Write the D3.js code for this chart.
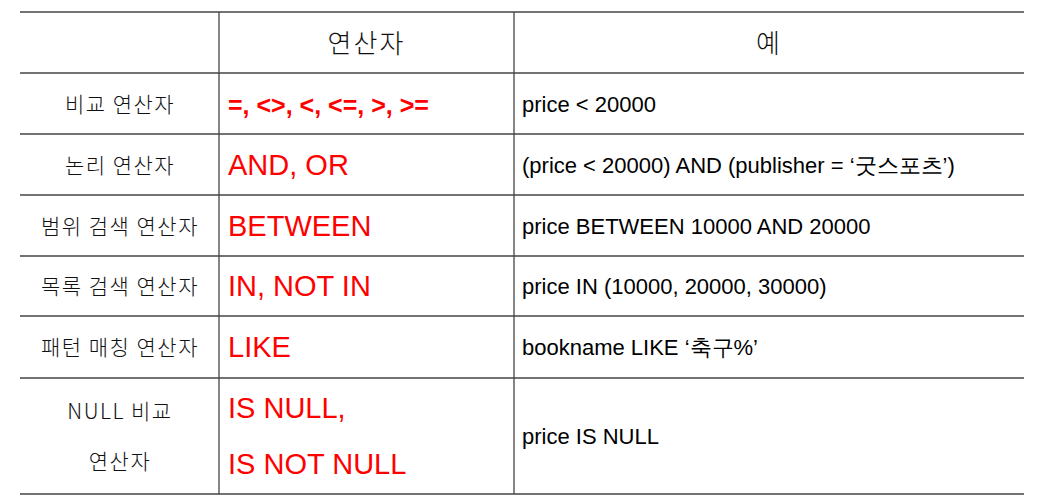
<!DOCTYPE html>
<html><head><meta charset="utf-8">
<script src="https://cdn.jsdelivr.net/npm/d3@7"></script>
<style>body{margin:0;background:#fff}</style>
</head><body><svg></svg>
<script>
// 표 데이터
const headers = ["", "연산자", "예"];
const categories = ["비교 연산자", "논리 연산자", "범위 검색 연산자", "목록 검색 연산자", "패턴 매칭 연산자", "NULL 비교\n연산자"];
const operators = ["=, <>, <, <=, >, >=", "AND, OR", "BETWEEN", "IN, NOT IN", "LIKE", "IS NULL,\nIS NOT NULL"];
const examples = ["price < 20000", "(price < 20000) AND (publisher = ‘굿스포츠’)", "price BETWEEN 10000 AND 20000",
  "price IN (10000, 20000, 30000)", "bookname LIKE ‘축구%’", "price IS NULL"];

const svg = d3.select("svg").attr("width", 1037).attr("height", 503);
const kr = "'Noto Sans CJK KR', sans-serif";
const lat = "'Liberation Sans', Arial, sans-serif";

// 행 경계
const rowY = [12, 73, 134, 195, 256, 316, 378, 494];
const colX = [20, 219, 514, 1024];

svg.selectAll("line.h").data(rowY).join("line")
  .attr("x1", colX[0]).attr("x2", colX[3]).attr("y1", d => d).attr("y2", d => d)
  .attr("stroke", "#444").attr("stroke-width", 1.3);
svg.selectAll("line.v").data(colX.slice(1, 3)).join("line").attr("class", "v")
  .attr("x1", d => d).attr("x2", d => d).attr("y1", rowY[0]).attr("y2", rowY[7])
  .attr("stroke", "#444").attr("stroke-width", 1.3);

// 머리글
svg.selectAll("text.hd").data(headers).join("text").attr("class", "hd")
  .attr("x", (d, i) => (colX[i] + colX[i + 1]) / 2).attr("y", 53)
  .attr("text-anchor", "middle").attr("font-family", kr).attr("font-weight", 300)
  .attr("font-size", 26).attr("letter-spacing", 2).attr("fill", "#111").text(d => d);

function mid(i) { return (rowY[i + 1] + rowY[i + 2]) / 2; }

// 구분 열
const catG = svg.selectAll("text.cat").data(categories).join("text").attr("class", "cat")
  .attr("text-anchor", "middle").attr("font-family", kr).attr("font-weight", 300)
  .attr("font-size", 21).attr("letter-spacing", 1.5).attr("fill", "#111");
catG.each(function(d, i) {
  const lines = d.split("\n");
  const t = d3.select(this);
  lines.forEach((l, k) => t.append("tspan").attr("x", 120)
    .attr("y", mid(i) + 8 + (k - (lines.length - 1) / 2) * 50).text(l));
});

// 연산자 열
const opG = svg.selectAll("text.op").data(operators).join("text").attr("class", "op")
  .attr("font-family", lat).attr("fill", "#ff0000")
  .attr("font-size", (d, i) => i === 0 ? 25 : 29)
  .attr("font-weight", (d, i) => i === 0 ? "bold" : "normal");
opG.each(function(d, i) {
  const lines = d.split("\n");
  const t = d3.select(this);
  lines.forEach((l, k) => t.append("tspan").attr("x", 228)
    .attr("y", mid(i) + 10 + (k - (lines.length - 1) / 2) * 56).text(l));
});

// 예 열
svg.selectAll("text.ex").data(examples).join("text").attr("class", "ex")
  .attr("x", 522).attr("y", (d, i) => mid(i) + 8)
  .attr("font-family", lat).attr("font-size", 22).attr("fill", "#000").text(d => d);
</script></body></html>
